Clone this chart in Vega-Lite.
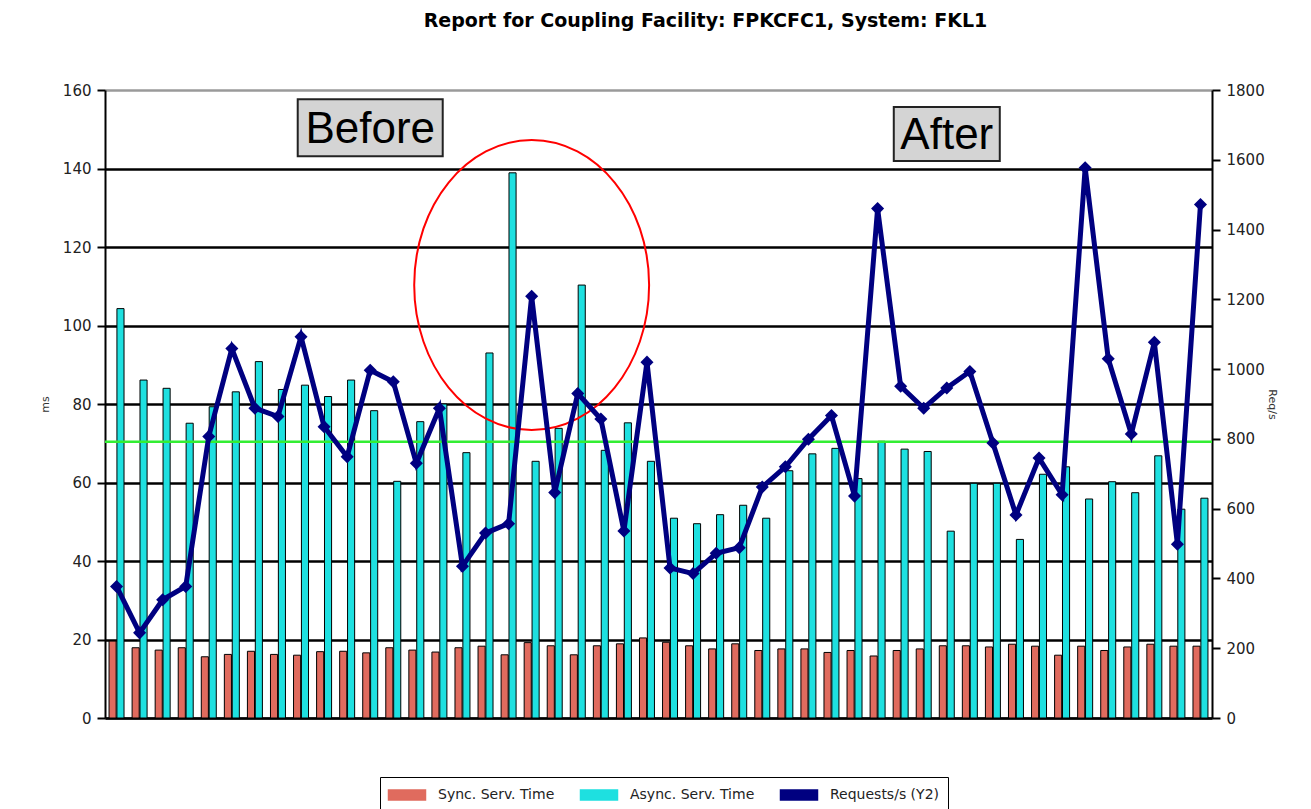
{
  "$schema": "https://vega.github.io/schema/vega-lite/v6.json",
  "width": 1107,
  "height": 628,
  "autosize": "none",
  "padding": {"left": 105, "top": 90, "right": 99, "bottom": 91},
  "background": "white",
  "title": {
    "text": "Report for Coupling Facility: FPKCFC1, System: FKL1",
    "font": "DejaVu Sans",
    "fontSize": 19,
    "fontWeight": "bold",
    "color": "black",
    "anchor": "middle",
    "dx": 47,
    "offset": 52
  },
  "datasets": {
    "cf": [
      {"t": 1, "sync": 19.6, "async": 104.3, "req": 377},
      {"t": 2, "sync": 17.9, "async": 86.1, "req": 244},
      {"t": 3, "sync": 17.3, "async": 84.0, "req": 339},
      {"t": 4, "sync": 17.9, "async": 75.1, "req": 377},
      {"t": 5, "sync": 15.6, "async": 79.3, "req": 807},
      {"t": 6, "sync": 16.2, "async": 83.1, "req": 1059},
      {"t": 7, "sync": 17.0, "async": 90.8, "req": 888},
      {"t": 8, "sync": 16.2, "async": 83.7, "req": 864},
      {"t": 9, "sync": 16.0, "async": 84.8, "req": 1093},
      {"t": 10, "sync": 16.9, "async": 81.9, "req": 835},
      {"t": 11, "sync": 17.0, "async": 86.1, "req": 749},
      {"t": 12, "sync": 16.6, "async": 78.3, "req": 997},
      {"t": 13, "sync": 17.9, "async": 60.3, "req": 964},
      {"t": 14, "sync": 17.3, "async": 75.5, "req": 730},
      {"t": 15, "sync": 16.8, "async": 80.0, "req": 888},
      {"t": 16, "sync": 17.9, "async": 67.6, "req": 435},
      {"t": 17, "sync": 18.3, "async": 93.0, "req": 530},
      {"t": 18, "sync": 16.1, "async": 138.9, "req": 557},
      {"t": 19, "sync": 19.2, "async": 65.4, "req": 1209},
      {"t": 20, "sync": 18.4, "async": 73.8, "req": 646},
      {"t": 21, "sync": 16.1, "async": 110.3, "req": 930},
      {"t": 22, "sync": 18.4, "async": 68.2, "req": 857},
      {"t": 23, "sync": 18.9, "async": 75.2, "req": 536},
      {"t": 24, "sync": 20.4, "async": 65.4, "req": 1020},
      {"t": 25, "sync": 19.3, "async": 50.9, "req": 430},
      {"t": 26, "sync": 18.4, "async": 49.5, "req": 414},
      {"t": 27, "sync": 17.6, "async": 51.8, "req": 472},
      {"t": 28, "sync": 18.9, "async": 54.2, "req": 488},
      {"t": 29, "sync": 17.2, "async": 50.9, "req": 662},
      {"t": 30, "sync": 17.6, "async": 63.0, "req": 720},
      {"t": 31, "sync": 17.6, "async": 67.3, "req": 799},
      {"t": 32, "sync": 16.7, "async": 68.7, "req": 867},
      {"t": 33, "sync": 17.2, "async": 61.0, "req": 636},
      {"t": 34, "sync": 15.8, "async": 70.5, "req": 1460},
      {"t": 35, "sync": 17.2, "async": 68.5, "req": 951},
      {"t": 36, "sync": 17.6, "async": 67.9, "req": 888},
      {"t": 37, "sync": 18.4, "async": 47.6, "req": 946},
      {"t": 38, "sync": 18.4, "async": 59.8, "req": 993},
      {"t": 39, "sync": 18.1, "async": 59.8, "req": 788},
      {"t": 40, "sync": 18.8, "async": 45.5, "req": 582},
      {"t": 41, "sync": 18.3, "async": 62.1, "req": 745},
      {"t": 42, "sync": 16.0, "async": 64.0, "req": 640},
      {"t": 43, "sync": 18.3, "async": 55.8, "req": 1577},
      {"t": 44, "sync": 17.2, "async": 60.2, "req": 1030},
      {"t": 45, "sync": 18.1, "async": 57.4, "req": 814},
      {"t": 46, "sync": 18.8, "async": 66.8, "req": 1077},
      {"t": 47, "sync": 18.3, "async": 53.2, "req": 498},
      {"t": 48, "sync": 18.3, "async": 56.0, "req": 1472}
    ],
    "notes": [
      {"t": 12, "ms": 150.4, "label": "Before"},
      {"t": 37, "ms": 148.8, "label": "After"}
    ],
    "circle": [{"t": 19, "ms": 110.3}],
    "level": [{"ms": 70.4}]
  },
  "layer": [
    {
      "layer": [
        {
          "data": {"name": "cf"},
          "transform": [{"fold": ["sync", "async"], "as": ["series", "ms"]}],
          "mark": {"type": "bar", "stroke": "black", "strokeWidth": 1},
          "encoding": {
            "x": {
              "field": "t",
              "type": "ordinal",
              "scale": {"paddingInner": 0.35, "paddingOuter": 0.175},
              "axis": {"labels": false, "ticks": false, "title": null, "domainColor": "black", "domainWidth": 2, "grid": false}
            },
            "xOffset": {"field": "series", "type": "nominal", "sort": ["sync", "async"], "scale": {"paddingInner": 0.1}},
            "y": {
              "field": "ms",
              "type": "quantitative",
              "scale": {"domain": [0, 160]},
              "axis": {
                "title": "ms",
                "values": [0, 20, 40, 60, 80, 100, 120, 140, 160],
                "grid": true,
                "gridColor": {"condition": {"test": "datum.value == 160", "value": "#9a9a9a"}, "value": "black"},
                "gridWidth": 2.5,
                "domainColor": "black",
                "domainWidth": 2,
                "tickColor": "black",
                "tickSize": 8,
                "tickWidth": 2,
                "labelFont": "DejaVu Sans",
                "labelFontSize": 15,
                "labelColor": "#222",
                "labelPadding": 6,
                "titleFont": "DejaVu Sans",
                "titleFontSize": 11,
                "titleFontWeight": "normal",
                "titleColor": "#333",
                "titlePadding": 12
              }
            },
            "color": {
              "field": "series",
              "type": "nominal",
              "scale": {"domain": ["sync", "async", "req"], "range": ["#e06b5e", "#1ee0e0", "#000080"]},
              "legend": {
                "orient": "none",
                "legendX": 275,
                "legendY": 687,
                "direction": "horizontal",
                "columns": 3,
                "title": null,
                "labelExpr": "datum.value == 'sync' ? 'Sync. Serv. Time' : datum.value == 'async' ? 'Async. Serv. Time' : 'Requests/s (Y2)'",
                "symbolType": "M-2,-0.54H2V0.54H-2Z",
                "symbolSize": 342,
                "symbolOffset": 9,
                "symbolStrokeColor": "black",
                "symbolStrokeWidth": 1.5,
                "symbolOpacity": 1,
                "labelFont": "DejaVu Sans",
                "labelFontSize": 14,
                "labelColor": "#222",
                "labelOffset": 21,
                "labelLimit": 300,
                "columnPadding": 22,
                "padding": 8,
                "strokeColor": "black",
                "fillColor": "white",
                "encode": {"symbols": {"update": {"fill": {"scale": "color", "field": "value"}, "stroke": {"value": "black"}, "strokeWidth": {"value": 1.5}, "opacity": {"value": 1}}}}
              }
            }
          }
        },
        {
          "data": {"name": "level"},
          "mark": {"type": "rule", "color": "#33ee33", "strokeWidth": 2.5},
          "encoding": {"y": {"field": "ms", "type": "quantitative"}}
        },
        {
          "data": {"name": "circle"},
          "mark": {
            "type": "point",
            "shape": "M-0.81,0C-0.81,-0.5523,-0.4474,-1,0,-1C0.4474,-1,0.81,-0.5523,0.81,0C0.81,0.5523,0.4474,1,0,1C-0.4474,1,-0.81,0.5523,-0.81,0Z",
            "size": 84100,
            "filled": false,
            "stroke": "#ff0000",
            "strokeWidth": 2,
            "opacity": 1
          },
          "encoding": {
            "x": {"field": "t", "type": "ordinal"},
            "y": {"field": "ms", "type": "quantitative"}
          }
        },
        {
          "data": {"name": "notes"},
          "transform": [{"filter": "datum.label == 'Before'"}],
          "mark": {
            "type": "point",
            "shape": "M-1,-0.393H1V0.393H-1Z",
            "size": 21025,
            "filled": true,
            "fill": "#d4d4d4",
            "stroke": "#222",
            "strokeWidth": 2,
            "opacity": 1
          },
          "encoding": {
            "x": {"field": "t", "type": "ordinal"},
            "y": {"field": "ms", "type": "quantitative"}
          }
        },
        {
          "data": {"name": "notes"},
          "transform": [{"filter": "datum.label == 'After'"}],
          "mark": {
            "type": "point",
            "shape": "M-1,-0.51H1V0.51H-1Z",
            "size": 11236,
            "filled": true,
            "fill": "#d4d4d4",
            "stroke": "#222",
            "strokeWidth": 2,
            "opacity": 1
          },
          "encoding": {
            "x": {"field": "t", "type": "ordinal"},
            "y": {"field": "ms", "type": "quantitative"}
          }
        },
        {
          "data": {"name": "notes"},
          "mark": {"type": "text", "font": "Liberation Sans", "fontSize": 44, "color": "black", "baseline": "middle", "align": "center", "dy": 2},
          "encoding": {
            "x": {"field": "t", "type": "ordinal"},
            "y": {"field": "ms", "type": "quantitative"},
            "text": {"field": "label"}
          }
        }
      ]
    },
    {
      "data": {"name": "cf"},
      "mark": {"type": "line", "strokeWidth": 5, "point": {"shape": "diamond", "filled": true, "size": 170}},
      "encoding": {
        "x": {"field": "t", "type": "ordinal"},
        "y": {
          "field": "req",
          "type": "quantitative",
          "scale": {"domain": [0, 1800]},
          "axis": {
            "orient": "right",
            "title": "Req/s",
            "titleAngle": 90,
            "format": "d",
            "values": [0, 200, 400, 600, 800, 1000, 1200, 1400, 1600, 1800],
            "grid": false,
            "domainColor": "black",
            "domainWidth": 2,
            "tickColor": "black",
            "tickSize": 8,
            "tickWidth": 2,
            "labelFont": "DejaVu Sans",
            "labelFontSize": 15,
            "labelColor": "#222",
            "labelPadding": 6,
            "titleFont": "DejaVu Sans",
            "titleFontSize": 11,
            "titleFontWeight": "normal",
            "titleColor": "#333",
            "titlePadding": 2
          }
        },
        "color": {"datum": "req"}
      }
    }
  ],
  "resolve": {"scale": {"y": "independent"}},
  "config": {
    "view": {"stroke": null},
    "font": "DejaVu Sans"
  }
}
